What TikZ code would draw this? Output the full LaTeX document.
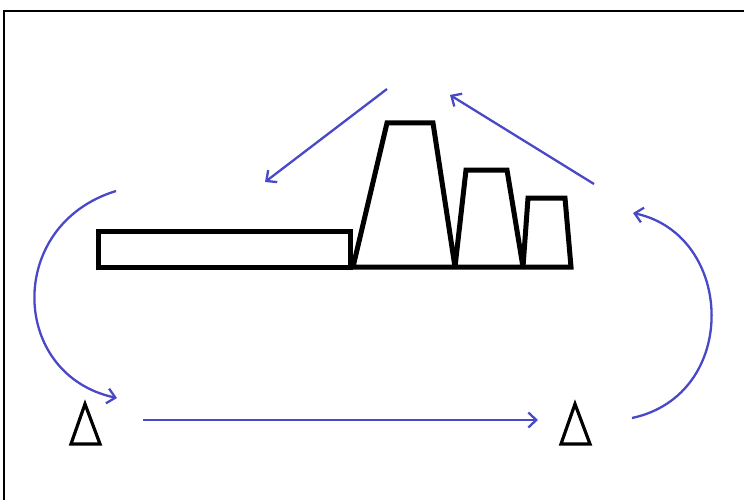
\documentclass[tikz,border=0pt]{standalone}
\usetikzlibrary{arrows.meta}
\definecolor{flowblue}{RGB}{72,72,200}
\tikzset{
  outline/.style={draw=black,line width=5pt,line join=miter,miter limit=2},
  tri/.style={draw=black,line width=3.2pt,line join=miter},
  flow/.style={draw=flowblue,line width=2.3pt,-{Straight Barb[length=8pt,width=15pt,line width=2.3pt]}},
  frame/.style={draw=black,line width=2.5pt}
}
\begin{document}
\begin{tikzpicture}[x=1pt,y=-1pt]
\useasboundingbox (0,0) rectangle (744,500);
% frame (top and left edges only)
\draw[frame] (4,500) -- (4,11) -- (744,11);
% long rectangle
\draw[outline] (98,231) rectangle (350,267);
% baseline and trapezoids
\draw[outline] (350,267) -- (353,267) -- (387,123) -- (433,123) -- (455,267)
  -- (466,170) -- (507,170) -- (523,267)
  -- (528,198) -- (565,198) -- (571,267) -- cycle;
% triangles
\draw[tri] (85,404) -- (100,444) -- (71,444) -- cycle;
\draw[tri] (575,404) -- (590,444) -- (561,444) -- cycle;
% arrows
\coordinate (a1s) at (387,89);  \coordinate (a1e) at (265,182);
\coordinate (a2s) at (594,184); \coordinate (a2e) at (450,95);
\coordinate (ls) at (116,191);  \coordinate (le) at (117,398);
\coordinate (rs) at (632,418);  \coordinate (re) at (633,213);
\coordinate (bs) at (143,420);  \coordinate (be) at (538,420);
\draw[flow] (a1s) -- (a1e);
\draw[flow] (a2s) -- (a2e);
\draw[flow] (ls) .. controls (5,225) and (10,375) .. (le);
\draw[flow] (rs) .. controls (740,395) and (735,235) .. (re);
\draw[flow] (bs) -- (be);
\end{tikzpicture}
\end{document}
